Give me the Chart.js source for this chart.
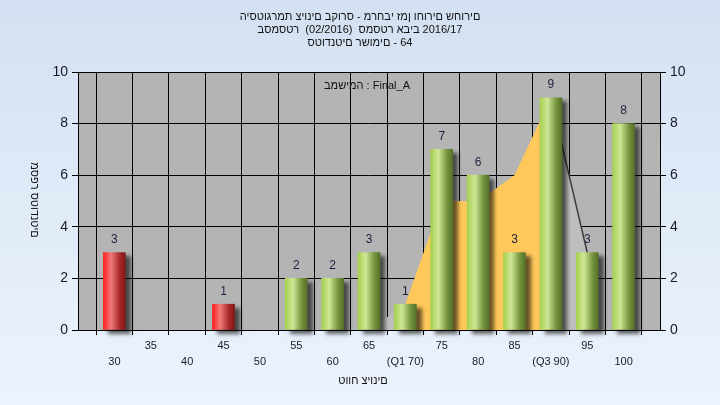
<!DOCTYPE html>
<html>
<head>
<meta charset="utf-8">
<script src="https://cdn.jsdelivr.net/npm/chart.js@4.4.1/dist/chart.umd.min.js"></script>
<style>
  body { margin: 0; }
  canvas { display: block; background: linear-gradient(180deg, #D3E0F1 0%, #E0EBF8 50%, #ECF3FC 100%); }
</style>
</head>
<body>
<canvas id="hist" width="720" height="405"></canvas>
<script>
// grade buckets and number of students in each
const categories = [30, 35, 40, 45, 50, 55, 60, 65, 70, 75, 80, 85, 90, 95, 100];
const counts = [3, 0, 0, 1, 0, 2, 2, 3, 1, 7, 6, 3, 9, 3, 8];
const xTickLabels = ['30', '35', '40', '45', '50', '55', '60', '65', '(Q1 70)', '75', '80', '85', '(Q3 90)', '95', '100'];
// background curve (orange between Q1 and Q3)
const curveX = [65, 70, 75, 80, 85, 90, 95];
const curveY = [0, 1, 5, 5, 6, 9, 3];
const q1 = 70;
const q3 = 90;
const passGrade = 55;
const yTicks = [0, 2, 4, 6, 8, 10];

const titleLines = [
  'היסטוגרמת ציונים בקורס - מרחבי זמן וחורים שחורים',
  'בסמסטר  (02/2016)  סמסטר אביב 2016/17',
  'סטודנטים רשומים - 64'
];
const taskText = 'במשימה : Final_A';
const xTitle = 'טווח ציונים';
const yTitle = 'מספר סטודנטים';

const FONT = '"Liberation Sans", Arial, sans-serif';

// the source draws every glyph left to right in typing order,
// so put the characters down one by one (no bidi reordering)
function drawPlain(ctx, text, cx, cy) {
  const chars = Array.from(text);
  const widths = chars.map((ch) => ctx.measureText(ch).width);
  let x = cx - widths.reduce((a, b) => a + b, 0) / 2;
  ctx.textAlign = 'left';
  chars.forEach((ch, i) => {
    ctx.fillText(ch, x, cy);
    x += widths[i];
  });
}

const barPoints = [];
categories.forEach((c, i) => {
  if (counts[i] > 0) barPoints.push({ x: c, y: counts[i] });
});
const curvePoints = curveX.map((x, i) => ({ x: x, y: curveY[i] }));

function barGradient(context) {
  const chart = context.chart;
  if (!chart.chartArea || !context.raw) return '#9CC44A';
  const x = chart.scales.x.getPixelForValue(context.raw.x);
  const g = chart.ctx.createLinearGradient(x - 11, 0, x + 11, 0);
  if (context.raw.x < passGrade) {
    g.addColorStop(0, '#FF1E1E');
    g.addColorStop(0.35, '#F07A7A');
    g.addColorStop(0.75, '#A82828');
    g.addColorStop(1, '#801818');
  } else {
    g.addColorStop(0, '#A6D04E');
    g.addColorStop(0.35, '#CFE696');
    g.addColorStop(0.75, '#73933C');
    g.addColorStop(1, '#56702A');
  }
  return g;
}

const plotBg = {
  id: 'plotBg',
  beforeDraw(chart) {
    const a = chart.chartArea;
    chart.ctx.save();
    chart.ctx.fillStyle = '#B4B4B4';
    chart.ctx.fillRect(a.left, a.top, a.right - a.left, a.bottom - a.top);
    chart.ctx.restore();
  }
};

const barShadow = {
  id: 'barShadow',
  beforeDatasetDraw(chart, args) {
    if (args.index !== 1) return;
    const ctx = chart.ctx;
    ctx.save();
    ctx.shadowColor = 'rgba(0,0,0,0.6)';
    ctx.shadowOffsetX = 5;
    ctx.shadowOffsetY = 4;
    ctx.shadowBlur = 4;
  },
  afterDatasetDraw(chart, args) {
    if (args.index !== 1) return;
    chart.ctx.restore();
  }
};

const barLabels = {
  id: 'barLabels',
  afterDatasetsDraw(chart) {
    const ctx = chart.ctx;
    const meta = chart.getDatasetMeta(1);
    ctx.save();
    ctx.font = '12px ' + FONT;
    ctx.fillStyle = '#1E2040';
    ctx.textAlign = 'center';
    ctx.textBaseline = 'middle';
    meta.data.forEach((el, i) => {
      ctx.fillText(String(barPoints[i].y), el.x, el.y - 13);
    });
    ctx.restore();
  }
};

const texts = {
  id: 'texts',
  afterDraw(chart) {
    const ctx = chart.ctx;
    ctx.save();
    ctx.fillStyle = '#111111';
    ctx.textBaseline = 'middle';
    ctx.font = '11px ' + FONT;
    titleLines.forEach((t, i) => drawPlain(ctx, t, 360, 17 + i * 13));
    drawPlain(ctx, taskText, 367, 86);
    drawPlain(ctx, xTitle, 363, 381);
    ctx.translate(34, 200);
    ctx.rotate(Math.PI / 2);
    drawPlain(ctx, yTitle, 0, 0);
    ctx.restore();
  }
};

const ctx = document.getElementById('hist').getContext('2d');
const chart = new Chart(ctx, {
  data: {
    datasets: [
      {
        type: 'line',
        data: curvePoints,
        order: 2,
        fill: 'origin',
        pointRadius: 0,
        tension: 0,
        borderWidth: 1.5,
        backgroundColor: '#C0C0C0',
        borderColor: 'rgba(0,0,0,0)',
        segment: {
          backgroundColor: (c) => (c.p0.parsed.x >= q1 && c.p1.parsed.x <= q3) ? '#FFC85A' : '#BEBEBE',
          borderColor: (c) => (c.p0.parsed.x >= q3) ? '#3A3A3A' : 'rgba(0,0,0,0)'
        },
        yAxisID: 'y'
      },
      {
        type: 'bar',
        data: barPoints,
        order: 1,
        barThickness: 22,
        borderWidth: 0,
        backgroundColor: barGradient,
        clip: false,
        yAxisID: 'y'
      }
    ]
  },
  options: {
    responsive: false,
    animation: false,
    layout: { padding: { top: 72, left: 0, right: 0, bottom: 0 } },
    plugins: {
      legend: { display: false },
      tooltip: { enabled: false },
      title: { display: false }
    },
    scales: {
      x: {
        type: 'linear',
        offset: false,
        min: 25,
        max: 105,
        afterFit: (scale) => { scale.height = 75; },
        afterBuildTicks: (scale) => {
          scale.ticks = [25].concat(categories, [105]).map((v) => ({ value: v }));
        },
        border: { display: true, color: '#000000', width: 1 },
        grid: { color: '#000000', lineWidth: 1, tickLength: 5 },
        ticks: {
          autoSkip: false,
          maxRotation: 0,
          padding: 3,
          color: '#1A1A2A',
          font: { size: 11, family: FONT, lineHeight: '16px' },
          callback: (value) => {
            const i = categories.indexOf(value);
            if (i < 0) return '';
            return (i % 2 === 0) ? ['', xTickLabels[i]] : [xTickLabels[i]];
          }
        }
      },
      y: {
        position: 'left',
        min: 0,
        max: 10,
        afterFit: (scale) => { scale.width = 78; },
        afterBuildTicks: (scale) => { scale.ticks = yTicks.map((v) => ({ value: v })); },
        border: { display: true, color: '#000000', width: 1 },
        grid: { color: '#000000', lineWidth: 1, tickLength: 6 },
        ticks: { padding: 4, color: '#1A1A2A', font: { size: 14, family: FONT } }
      },
      y2: {
        position: 'right',
        min: 0,
        max: 10,
        afterFit: (scale) => { scale.width = 60; },
        afterBuildTicks: (scale) => { scale.ticks = yTicks.map((v) => ({ value: v })); },
        border: { display: true, color: '#000000', width: 1 },
        grid: { drawOnChartArea: false, color: '#000000', lineWidth: 1, tickLength: 6 },
        ticks: { padding: 4, color: '#1A1A2A', font: { size: 14, family: FONT } }
      }
    }
  },
  plugins: [plotBg, barShadow, barLabels, texts]
});
</script>
</body>
</html>
